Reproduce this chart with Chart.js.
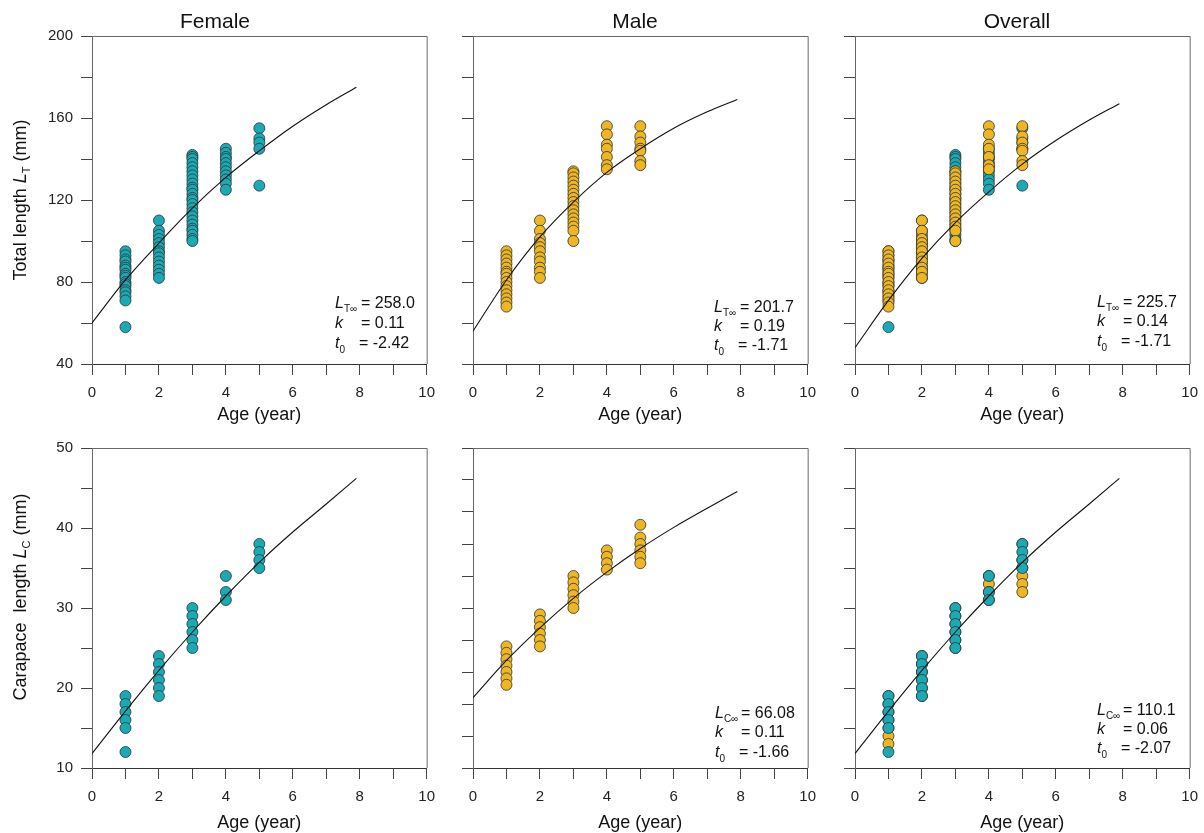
<!DOCTYPE html>
<html>
<head>
<meta charset="utf-8">
<script src="https://cdn.jsdelivr.net/npm/chart.js@4.4.1/dist/chart.umd.min.js"></script>
<style>
  html, body { margin: 0; padding: 0; background: #fff; overflow: hidden; }
  body { width: 1204px; height: 833px; position: relative; }
  canvas { position: absolute; }
</style>
</head>
<body>
<canvas id="c1"></canvas>
<canvas id="c2"></canvas>
<canvas id="c3"></canvas>
<canvas id="c4"></canvas>
<canvas id="c5"></canvas>
<canvas id="c6"></canvas>
<script>
// age classes (years)
const ages = [1, 2, 3, 4, 5];

// total length (mm), one list per age class
const femaleTL = [
    [95, 93, 91, 90, 88, 87, 86, 84, 83, 82, 80, 79, 78, 76, 75, 73, 71, 58],
    [110, 105, 103, 101, 99, 97, 95, 94, 92, 90, 88, 86, 84, 82],
    [142, 141, 140, 138, 136, 134, 132, 130, 128, 126, 125, 123, 121, 120, 118, 116, 114, 112, 110, 108, 106, 105, 103, 101, 100],
    [145, 143, 141, 140, 138, 136, 134, 132, 130, 128, 125],
    [155, 150, 148, 145, 127]
];
const maleTL = [
    [95, 93, 91, 89, 87, 85, 84, 82, 80, 78, 76, 74, 72, 70, 68],
    [110, 105, 101, 99, 97, 95, 92, 90, 87, 85, 82],
    [134, 133, 131, 129, 127, 125, 123, 121, 119, 117, 115, 113, 111, 109, 107, 105, 100],
    [156, 152, 147, 145, 141, 137, 135],
    [156, 151, 148, 145, 144, 139, 137]
];

// carapace length (mm), one list per age class
const femaleCL = [
    [19, 18, 17, 16, 15, 12],
    [24, 23, 22, 21, 20, 19],
    [30, 29, 28, 27, 26, 25],
    [34, 32, 31],
    [38, 37, 36, 35]
];
const maleCL = [
    [19, 18, 17, 16, 15, 14, 13],
    [24, 23, 22, 21, 20, 19],
    [30, 29, 28, 27, 26, 25],
    [34, 33, 32, 31],
    [38, 36, 35, 34, 33, 32]
];

// fitted growth curves
const curveAges = [0, 1, 2, 3, 4, 5, 6, 7, 7.9];
const femaleTLCurve = [60, 81, 99, 116, 131, 144, 156, 166.5, 175];
const maleTLCurve = [56, 81, 102, 119, 133.5, 145, 155, 163, 169];
const overallTLCurve = [48, 71, 91.5, 109, 124, 137.5, 149, 159, 167];
const femaleCLCurve = [11.8, 17.1, 22.2, 27.0, 31.5, 35.7, 39.5, 43.0, 46.2];
const maleCLCurve = [11, 16.8, 21.9, 26.5, 30.6, 34.3, 37.6, 40.6, 43.2];
const overallCLCurve = [11.8, 17.1, 22.2, 27.0, 31.5, 35.7, 39.5, 43.0, 46.2];

// parameter boxes
const femaleTLParams = ['258.0', '0.11', '-2.42'];
const maleTLParams = ['201.7', '0.19', '-1.71'];
const overallTLParams = ['225.7', '0.14', '-1.71'];
const maleCLParams = ['66.08', '0.11', '-1.66'];
const overallCLParams = ['110.1', '0.06', '-2.07'];

const FONT = '"Liberation Sans", Arial, sans-serif';
const TEAL = '#19AAB6';
const GOLD = '#EFB621';
const EDGE = '#2c3434';

Chart.defaults.font.family = FONT;
Chart.defaults.color = '#111';

function toPoints(groups) {
    const pts = [];
    groups.forEach((vals, i) => {
        vals.forEach(v => pts.push({ x: ages[i], y: v }));
    });
    return pts;
}

function curvePoints(vals) {
    return curveAges.map((a, i) => ({ x: a, y: vals[i] }));
}

function drawRich(ctx, x, y, parts) {
    let cx = x;
    parts.forEach(p => {
        ctx.font = (p.italic ? 'italic ' : '') + (p.size || 16) + 'px ' + FONT;
        ctx.fillText(p.text, cx, y + (p.dy || 0));
        cx += ctx.measureText(p.text).width;
    });
    return cx - x;
}

function richWidth(ctx, parts) {
    let w = 0;
    parts.forEach(p => {
        ctx.font = (p.italic ? 'italic ' : '') + (p.size || 16) + 'px ' + FONT;
        w += ctx.measureText(p.text).width;
    });
    return w;
}

// frame on top/right plus rich text (subscripts, italics)
const extras = {
    id: 'extras',
    beforeDatasetsDraw(chart) {
        const { ctx, chartArea: a } = chart;
        ctx.save();
        ctx.strokeStyle = '#6a6a6a';
        ctx.lineWidth = 1;
        ctx.beginPath();
        ctx.moveTo(a.left, a.top + 0.5);
        ctx.lineTo(a.right + 0.5, a.top + 0.5);
        ctx.lineTo(a.right + 0.5, a.bottom);
        ctx.stroke();
        ctx.restore();
    },
    afterDraw(chart) {
        const o = chart.options.plugins.extras || {};
        const ctx = chart.ctx;
        const ox = o.ox || 0, oy = o.oy || 0;
        ctx.save();
        ctx.fillStyle = '#111';
        ctx.textBaseline = 'alphabetic';
        if (o.yTitle) {
            const t = o.yTitle;
            ctx.save();
            ctx.translate(t.x - ox, t.y - oy);
            ctx.rotate(-Math.PI / 2);
            const w = richWidth(ctx, t.parts);
            drawRich(ctx, -w / 2, 6, t.parts);
            ctx.restore();
        }
        if (o.notes) {
            const n = o.notes;
            const sub = n.sub;
            const lines = [
                { parts: [{ text: 'L', italic: true }, { text: sub, size: 10, dy: 4 }], eq: 26 },
                { parts: [{ text: 'k', italic: true }], eq: 26 },
                { parts: [{ text: 't', italic: true }, { text: '0', size: 10, dy: 5 }], eq: 24 }
            ];
            lines.forEach((ln, i) => {
                const x = n.x - ox, y = n.ys[i] - oy;
                drawRich(ctx, x, y, ln.parts);
                drawRich(ctx, x + ln.eq, y, [{ text: '= ' + n.values[i] }]);
            });
        }
        ctx.restore();
    }
};

function makePanel(p) {
    const canvas = document.getElementById(p.id);
    canvas.width = p.w;
    canvas.height = p.h;
    canvas.style.left = p.left + 'px';
    canvas.style.top = p.top + 'px';

    const datasets = [{
        type: 'line',
        data: curvePoints(p.curve),
        borderColor: '#111',
        borderWidth: 1.1,
        pointRadius: 0,
        tension: 0.4,
        cubicInterpolationMode: 'monotone',
        fill: false,
        order: 0
    }];
    p.series.forEach((s, i) => {
        datasets.push({
            data: toPoints(s.data),
            backgroundColor: s.color,
            borderColor: EDGE,
            borderWidth: 0.8,
            pointRadius: 5.5,
            order: i + 1
        });
    });

    new Chart(canvas, {
        type: 'scatter',
        data: { datasets },
        options: {
            responsive: false,
            animation: false,
            events: [],
            layout: { padding: { top: p.padTop, right: 14, left: 0, bottom: 0 } },
            plugins: {
                legend: { display: false },
                tooltip: { enabled: false },
                title: {
                    display: !!p.title,
                    text: p.title,
                    font: { size: 21, weight: 'normal' },
                    color: '#111',
                    padding: { top: 10, bottom: 0.8 }
                },
                extras: { ox: p.left, oy: p.top, yTitle: p.yTitle, notes: p.notes }
            },
            scales: {
                x: {
                    type: 'linear',
                    min: 0,
                    max: 10,
                    afterFit: s => { s.height = p.xh; },
                    ticks: {
                        stepSize: 1,
                        autoSkip: false,
                        maxRotation: 0,
                        padding: 9,
                        font: { size: 15 },
                        color: '#222',
                        callback: v => (v % 2 === 0 ? v : '')
                    },
                    grid: { drawOnChartArea: false, drawTicks: true, tickLength: 11, color: '#444' },
                    border: { color: '#333', width: 1 },
                    title: {
                        display: true,
                        text: 'Age (year)',
                        font: { size: 18 },
                        color: '#111',
                        padding: { top: 0, bottom: 0 }
                    }
                },
                y: {
                    type: 'linear',
                    min: p.yMin,
                    max: p.yMax,
                    afterFit: s => { s.width = p.yw; },
                    ticks: {
                        stepSize: p.yStep,
                        autoSkip: false,
                        padding: 8,
                        font: { size: 15 },
                        color: '#222',
                        callback: v => (p.yLabel && v % p.yLabel === 0 ? v : '')
                    },
                    grid: { drawOnChartArea: false, drawTicks: true, tickLength: 11, color: '#444' },
                    border: { color: '#666', width: 1 }
                }
            }
        },
        plugins: [extras]
    });
}

const topH = 36 + 328 + 62;
const botH = 10 + 327 + 66;

makePanel({
    id: 'c1', left: 0, top: 0, w: 444, h: topH, yw: 92, xh: 62, padTop: 0,
    title: 'Female', yMin: 40, yMax: 200, yStep: 20, yLabel: 40,
    series: [{ data: femaleTL, color: TEAL }],
    curve: femaleTLCurve,
    yTitle: { x: 20, y: 200, parts: [{ text: 'Total length ', size: 18 }, { text: 'L', italic: true, size: 18 }, { text: 'T', size: 11, dy: 4 }, { text: ' (mm)', size: 18 }] },
    notes: { x: 335, ys: [308, 328, 348], sub: 'T\u221e', values: femaleTLParams }
});
makePanel({
    id: 'c2', left: 459, top: 0, w: 366, h: topH, yw: 14, xh: 62, padTop: 0,
    title: 'Male', yMin: 40, yMax: 200, yStep: 20, yLabel: null,
    series: [{ data: maleTL, color: GOLD }],
    curve: maleTLCurve,
    notes: { x: 714, ys: [312, 331, 350], sub: 'T\u221e', values: maleTLParams }
});
makePanel({
    id: 'c3', left: 841, top: 0, w: 366, h: topH, yw: 14, xh: 62, padTop: 0,
    title: 'Overall', yMin: 40, yMax: 200, yStep: 20, yLabel: null,
    series: [{ data: maleTL, color: GOLD }, { data: femaleTL, color: TEAL }],
    curve: overallTLCurve,
    notes: { x: 1097, ys: [307, 326, 346], sub: 'T\u221e', values: overallTLParams }
});
makePanel({
    id: 'c4', left: 0, top: 431, w: 444, h: botH, yw: 92, xh: 66, padTop: 10,
    title: '', yMin: 10, yMax: 50, yStep: 5, yLabel: 10,
    series: [{ data: femaleCL, color: TEAL }],
    curve: femaleCLCurve,
    yTitle: { x: 20, y: 597, parts: [{ text: 'Carapace  length ', size: 18 }, { text: 'L', italic: true, size: 18 }, { text: 'C', size: 11, dy: 4 }, { text: ' (mm)', size: 18 }] }
});
makePanel({
    id: 'c5', left: 459, top: 431, w: 366, h: botH, yw: 14, xh: 66, padTop: 10,
    title: '', yMin: 0, yMax: 50, yStep: 5, yLabel: null,
    series: [{ data: maleCL, color: GOLD }],
    curve: maleCLCurve,
    notes: { x: 715, ys: [718, 737, 757], sub: 'C\u221e', values: maleCLParams }
});
makePanel({
    id: 'c6', left: 841, top: 431, w: 366, h: botH, yw: 14, xh: 66, padTop: 10,
    title: '', yMin: 10, yMax: 50, yStep: 5, yLabel: null,
    series: [{ data: femaleCL, color: TEAL }, { data: maleCL, color: GOLD }],
    curve: overallCLCurve,
    notes: { x: 1097, ys: [715, 734, 753], sub: 'C\u221e', values: overallCLParams }
});
</script>
</body>
</html>
